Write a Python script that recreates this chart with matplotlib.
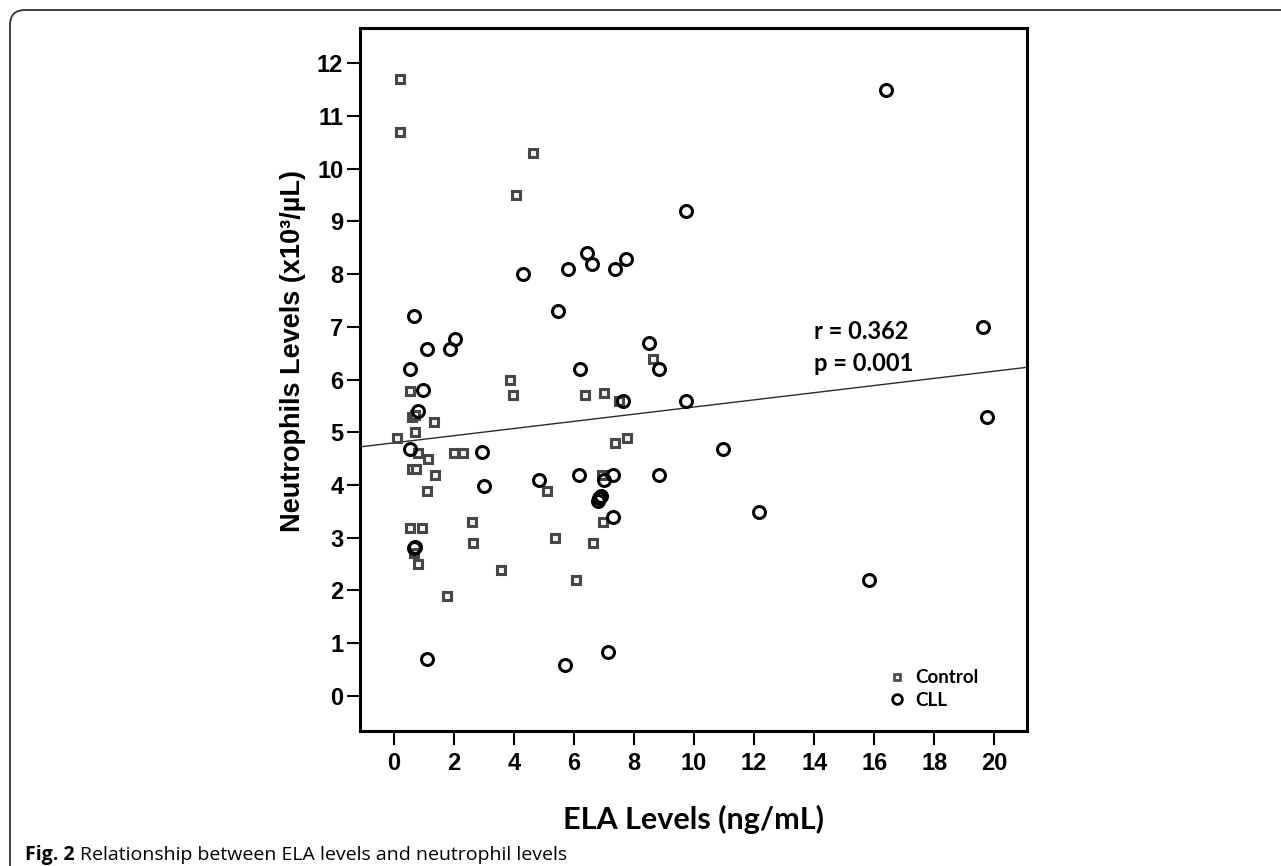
import matplotlib
matplotlib.use("Agg")
import matplotlib.pyplot as plt
import numpy as np
from matplotlib.lines import Line2D
from matplotlib.patches import FancyBboxPatch

# values
control_ela = [0.22, 0.22, 4.64, 4.07, 3.86, 8.62,
               0.56, 3.99, 6.36, 7.02, 7.52,
               1.36, 0.61, 0.72, 0.70, 0.13, 0.80, 1.14, 2.00, 2.30,
               0.62, 0.74, 1.39, 1.13, 0.56, 0.94, 2.61, 2.63, 0.69, 0.80, 3.57, 1.78,
               5.10, 5.36, 6.08, 6.63, 6.96, 6.93, 7.38, 7.77]
control_neut = [11.70, 10.69, 10.29, 9.50, 5.99, 6.39,
                5.79, 5.70, 5.70, 5.74, 5.60,
                5.19, 5.30, 5.33, 5.00, 4.90, 4.60, 4.50, 4.60, 4.60,
                4.30, 4.30, 4.19, 3.89, 3.19, 3.19, 3.29, 2.90, 2.71, 2.50, 2.39, 1.90,
                3.89, 2.99, 2.20, 2.90, 3.29, 4.19, 4.79, 4.90]

cll_ela = [16.40, 9.72, 6.44, 7.73, 6.62, 5.80, 7.38, 4.31, 5.49, 0.69,
           19.61, 2.05, 8.49, 1.11, 1.89, 0.56, 6.21, 8.84, 0.98, 7.65,
           9.73, 0.80, 19.75, 0.56, 10.98, 2.94, 6.16, 7.32, 8.84, 4.85,
           6.99, 3.02, 6.91, 6.79, 6.85, 12.15, 7.32, 0.68, 0.72, 15.83,
           7.13, 1.13, 5.71]
cll_neut = [11.49, 9.20, 8.40, 8.29, 8.19, 8.10, 8.10, 8.00, 7.30, 7.20,
            7.00, 6.77, 6.69, 6.59, 6.59, 6.20, 6.20, 6.20, 5.80, 5.60,
            5.60, 5.41, 5.30, 4.69, 4.69, 4.63, 4.19, 4.19, 4.19, 4.10,
            4.10, 3.99, 3.80, 3.69, 3.75, 3.48, 3.39, 2.80, 2.82, 2.19,
            0.83, 0.70, 0.59]

fit_intercept = 4.80
fit_slope = 0.068
stats_lines = ["r = 0.362", "p = 0.001"]

x_ticks = list(range(0, 21, 2))
y_ticks = list(range(0, 13))

TICK_FONT = ["Liberation Sans Narrow", "Liberation Sans", "DejaVu Sans"]
LABEL_FONT = ["Lato", "DejaVu Sans"]

fig = plt.figure(figsize=(12.81, 8.66), dpi=100)
ax = fig.add_axes([0.2814, 0.1562, 0.5207, 0.8115])

ax.plot(control_ela, control_neut, linestyle="none", marker="s", markersize=6.0,
        markeredgewidth=2.2, markeredgecolor="#474747", markerfacecolor="#f4f4f4", zorder=3)
ax.plot(cll_ela, cll_neut, linestyle="none", marker="o", markersize=8.6,
        markeredgewidth=2.2, markeredgecolor="black", markerfacecolor="none", zorder=4)

xlim = (-1.1, 21.1)
xs = np.array(xlim)
ax.plot(xs, fit_intercept + fit_slope * xs, color="#2b2b2b", linewidth=1.0, zorder=2)

ax.set_xlim(*xlim)
ax.set_ylim(-0.66, 12.67)
ax.set_xticks(x_ticks)
ax.set_yticks(y_ticks)

for side in ["left", "right", "top", "bottom"]:
    ax.spines[side].set_linewidth(2.2)
    ax.spines[side].set_color("black")

ax.tick_params(axis="x", direction="out", length=10, width=1.5, pad=5.5)
ax.tick_params(axis="y", direction="out", length=9.4, width=1.5, pad=3)
for lbl in ax.get_xticklabels() + ax.get_yticklabels():
    lbl.set_family(TICK_FONT)
    lbl.set_fontweight("bold")
    lbl.set_fontsize(17)

ax.set_xlabel("ELA Levels (ng/mL)", family=LABEL_FONT, fontweight="bold",
              fontsize=22, labelpad=21)
ax.set_ylabel("Neutrophils Levels (x10³/µL)", family=TICK_FONT, fontweight="bold",
              fontsize=19.5)
ax.yaxis.set_label_coords(-0.082, 0.54)

ax.text(14.0, 6.91, stats_lines[0], family=LABEL_FONT, fontweight="bold",
        fontsize=17, va="center", ha="left")
ax.text(14.0, 6.31, stats_lines[1], family=LABEL_FONT, fontweight="bold",
        fontsize=17, va="center", ha="left")

handles = [
    Line2D([], [], linestyle="none", marker="s", markersize=4.6, markeredgewidth=1.9,
           markeredgecolor="#474747", markerfacecolor="#f4f4f4", label="Control"),
    Line2D([], [], linestyle="none", marker="o", markersize=7.0, markeredgewidth=2.0,
           markeredgecolor="black", markerfacecolor="none", label="CLL"),
]
ax.legend(handles=handles, loc="lower left", bbox_to_anchor=(0.777, 0.018),
          frameon=False, handlelength=1.0, handletextpad=0.45, labelspacing=0.3,
          borderpad=0, prop={"family": LABEL_FONT, "weight": "bold", "size": 13.5})

# outer panel border (open on right and bottom)
border = FancyBboxPatch((0.10, -0.5), 13.5, 9.06, boxstyle="round,pad=0,rounding_size=0.15",
                        transform=fig.dpi_scale_trans, facecolor="none",
                        edgecolor="#333333", linewidth=1.3, clip_on=False)
fig.patches.append(border)

fig.text(25 / 1281, 1 - 860 / 866, "Fig. 2", family=["Open Sans", "DejaVu Sans"],
         fontweight="bold", fontsize=14, ha="left", va="baseline")
fig.text(80 / 1281, 1 - 860 / 866, "Relationship between ELA levels and neutrophil levels",
         family=["Open Sans", "DejaVu Sans"], fontsize=14, ha="left", va="baseline")

fig.savefig("out.png", dpi=100)
